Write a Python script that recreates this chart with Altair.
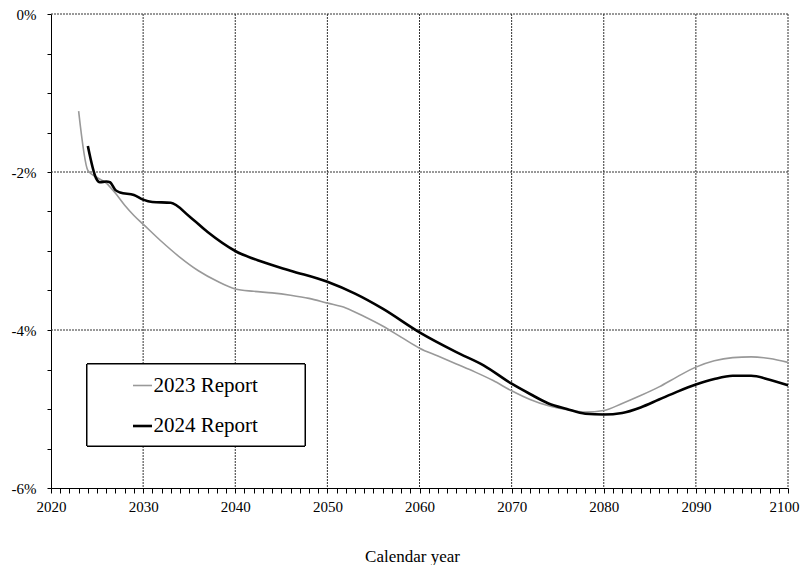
import altair as alt
import pandas as pd

# 2023 Report (gray)
years_2023 = [2023, 2024, 2025, 2026, 2027, 2028, 2029, 2030, 2032, 2034, 2036, 2038,
              2040, 2042, 2044, 2046, 2048, 2050, 2052, 2054, 2056, 2058, 2060, 2062,
              2064, 2066, 2068, 2070, 2072, 2074, 2076, 2078, 2080, 2082, 2084, 2086,
              2088, 2090, 2092, 2094, 2096, 2098, 2100]
values_2023 = [-1.23, -1.98, -2.07, -2.14, -2.27, -2.42, -2.55, -2.66, -2.88, -3.08, -3.25, -3.38,
               -3.48, -3.51, -3.53, -3.56, -3.60, -3.66, -3.72, -3.83, -3.95, -4.09, -4.23, -4.33,
               -4.43, -4.53, -4.64, -4.77, -4.88, -4.96, -5.01, -5.04, -5.02, -4.93, -4.83, -4.72,
               -4.59, -4.47, -4.39, -4.35, -4.34, -4.36, -4.41]

# 2024 Report (black)
years_2024 = [2024, 2024.9, 2025.3, 2026, 2026.4, 2027, 2027.5, 2029, 2030, 2031, 2033,
              2035, 2037, 2040, 2043, 2046, 2050, 2053, 2056, 2060, 2064, 2067, 2070,
              2072, 2074, 2076, 2078, 2080, 2082, 2084, 2086, 2088, 2090, 2092, 2094,
              2096, 2098, 2100]
values_2024 = [-1.67, -2.08, -2.13, -2.12, -2.13, -2.23, -2.26, -2.29, -2.35, -2.38, -2.39,
               -2.56, -2.76, -3.00, -3.14, -3.25, -3.39, -3.54, -3.73, -4.03, -4.28, -4.45, -4.68,
               -4.81, -4.93, -5.00, -5.06, -5.07, -5.05, -4.98, -4.88, -4.78, -4.69, -4.62, -4.58,
               -4.58, -4.63, -4.70]

series_names = ["2023 Report", "2024 Report"]
series_colors = ["#999999", "#000000"]
series_widths = [1.6, 2.6]

# gridlines (major ticks)
grid_years = [2030, 2040, 2050, 2060, 2070, 2080, 2090, 2100]
grid_values = [-4, -2, 0]

df = pd.concat([
    pd.DataFrame({"year": years_2023, "value": values_2023, "series": series_names[0]}),
    pd.DataFrame({"year": years_2024, "value": values_2024, "series": series_names[1]}),
])
gx = pd.DataFrame({"year": grid_years})
gy = pd.DataFrame({"value": grid_values})

FONT = "Liberation Serif"

xscale = alt.Scale(domain=[2020, 2100], nice=False, zero=False)
yscale = alt.Scale(domain=[-6, 0], nice=False, zero=False)

x_axis = alt.Axis(
    title="Calendar year",
    values=list(range(2020, 2101)),
    labelExpr="datum.value % 10 == 0 ? toString(datum.value) : ''",
    labelOverlap=False, labelFlush=False,
    labelFont=FONT, labelFontSize=15, labelColor="#000000", labelPadding=6,
    labelOffset={"condition": {"test": "datum.value == 2100", "value": -4}, "value": 0},
    grid=False,
    ticks=True, tickSize=5, tickColor="#000000", tickWidth=1, tickOpacity=1,
    domain=True, domainColor="#000000", domainWidth=1,
    titleFont=FONT, titleFontSize=17, titleFontWeight="normal", titleColor="#000000",
    titleY=73, titleBaseline="alphabetic", titleX=361,
)

y_axis = alt.Axis(
    title=None,
    values=[-6 + 0.5 * i for i in range(13)],
    labelExpr="datum.value % 2 == 0 ? toString(datum.value) + '%' : ''",
    labelOverlap=False, labelFlush=False,
    labelFont=FONT, labelFontSize=15, labelColor="#000000", labelPadding=11,
    grid=False,
    ticks=True, tickSize=4, tickColor="#000000", tickWidth=1, tickOpacity=1,
    domain=True, domainColor="#000000", domainWidth=1,
)

vgrid = alt.Chart(gx).mark_rule(color="#333333", strokeDash=[2, 1], strokeWidth=1).encode(
    x=alt.X("year:Q", scale=xscale, axis=x_axis)
)
hgrid = alt.Chart(gy).mark_rule(color="#333333", strokeDash=[2, 1], strokeWidth=1).encode(
    y=alt.Y("value:Q", scale=yscale, axis=y_axis)
)

frame = alt.Chart(gx).mark_rect(
    fill="#ffffff", stroke="#000000", strokeWidth=1
).encode(
    x=alt.value(36), x2=alt.value(254), y=alt.value(350), y2=alt.value(432)
)

lines = alt.Chart(df).mark_line(interpolate="monotone").encode(
    x=alt.X("year:Q", scale=xscale, axis=x_axis),
    y=alt.Y("value:Q", scale=yscale, axis=y_axis),
    color=alt.Color("series:N",
                    scale=alt.Scale(domain=series_names, range=series_colors),
                    legend=alt.Legend(
                        title=None, orient="none", legendX=34, legendY=350,
                        direction="vertical",
                        padding=11, symbolType="stroke", symbolSize=361,
                        symbolOffset=35.5, labelOffset=0,
                        symbolStrokeWidth=2,
                        labelFontSize=21, labelFont=FONT, labelColor="#000000",
                        rowPadding=19,
                    )),
    strokeWidth=alt.StrokeWidth("series:N",
                                scale=alt.Scale(domain=series_names, range=series_widths),
                                legend=None),
)

chart = alt.layer(vgrid, hgrid, frame, lines).properties(
    width=737, height=474,
    autosize=alt.AutoSizeParams(type="none"),
    padding={"left": 43, "top": 6, "right": 12, "bottom": 77},
).configure(
    font=FONT,
).configure_view(
    strokeWidth=0,
)

chart.save("out.html", embed_options={"renderer": "svg", "actions": False})
